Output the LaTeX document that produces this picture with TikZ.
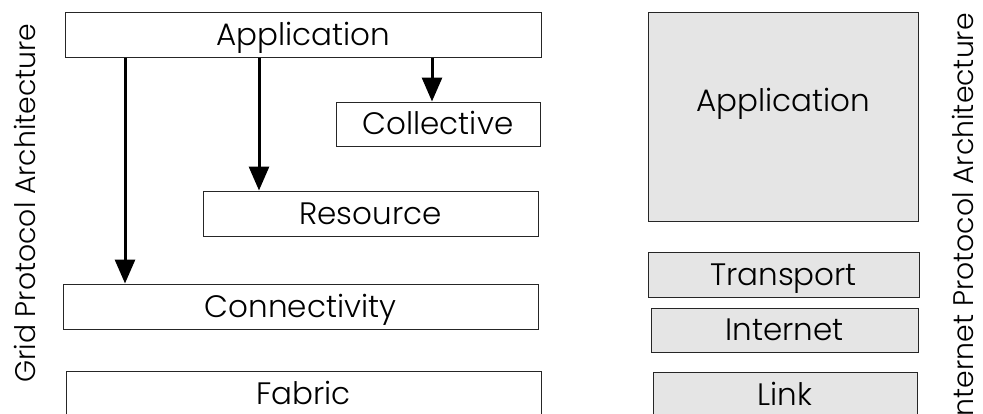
\documentclass[tikz,border=0pt]{standalone}
\usepackage{fontspec}
\setmainfont{Poppins}[UprightFont=* Light]
\usetikzlibrary{arrows.meta}
\begin{document}
\begin{tikzpicture}[x=1pt,y=-1pt,
  layerfont/.style={font=\fontsize{31}{34}\selectfont, text height=21.5pt, text depth=0pt},
  layer/.style={draw=black!85, line width=1pt, inner sep=0pt, layerfont},
  gridlayer/.style={layer, fill=white},
  iplayer/.style={layer, fill=black!10},
  dep/.style={line width=3pt, -{Triangle[width=20pt,length=24pt]}},
  sidelabel/.style={rotate=90, inner sep=0pt, font=\fontsize{28.3}{31}\selectfont}]
\useasboundingbox (0,0) rectangle (983,413);
\clip (0,0) rectangle (983,413);

% Grid protocol stack
\node[gridlayer, minimum width=476pt, minimum height=45pt] (app) at (303,34.5) {Application};
\node[gridlayer, minimum width=204pt, minimum height=44pt] (coll) at (438,124) {Collective};
\node[gridlayer, minimum width=335pt, minimum height=45pt] (res) at (370.5,213.5) {Resource};
\node[gridlayer, minimum width=475pt, minimum height=45pt] (conn) at (300.5,306.5) {Connectivity};
\node[gridlayer, minimum width=475pt, minimum height=46pt] (fab) at (303.5,394) {Fabric};

% Internet protocol stack
\node[iplayer, minimum width=270pt, minimum height=209pt,
      label={[layerfont, inner sep=0pt, yshift=16pt]center:Application}] (iapp) at (783,116.5) {};
\node[iplayer, minimum width=271pt, minimum height=45pt] (trans) at (783.5,274.5) {Transport};
\node[iplayer, minimum width=267pt, minimum height=44pt] (inet) at (784.5,330) {Internet};
\node[iplayer, minimum width=264pt, minimum height=46pt] (link) at (785,395) {Link};

% Direct dependencies from the application layer
\coordinate (d1) at (125,0);
\coordinate (d2) at (259,0);
\coordinate (d3) at (432,0);
\draw[dep] (d1 |- app.south) -- (d1 |- conn.north);
\draw[dep] (d2 |- app.south) -- (d2 |- res.north);
\draw[dep] (d3 |- app.south) -- (d3 |- coll.north);

% Stack titles
\node[sidelabel, anchor=base west] (glabel) at (35,383) {Grid Protocol Architecture};
\node[sidelabel, anchor=base east] (ilabel) at (973,13) {Internet Protocol Architecture};
\end{tikzpicture}
\end{document}
